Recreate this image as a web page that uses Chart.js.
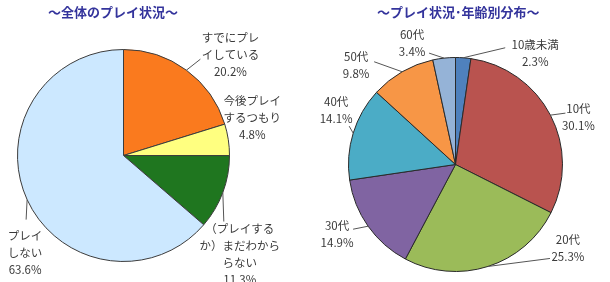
<!DOCTYPE html>
<html>
<head>
<meta charset="utf-8">
<script src="https://cdn.jsdelivr.net/npm/chart.js@4"></script>
<style>
  body { margin: 0; background: #fff; width: 610px; height: 282px; position: relative; overflow: hidden; }
  .box { position: absolute; top: 0; width: 305px; height: 282px; }
  .titulo { position: absolute; top: 2px; font: bold 13px "Noto Sans CJK JP", sans-serif; color: #34349c; white-space: nowrap; }
</style>
</head>
<body>
<div class="box" style="left:0"><canvas id="chartZentai" width="305" height="282"></canvas></div>
<div class="box" style="left:305px"><canvas id="chartNenrei" width="305" height="282"></canvas></div>
<div class="titulo" style="left:48px">～全体のプレイ状況～</div>
<div class="titulo" style="left:377px">～プレイ状況･年齢別分布～</div>
<script>
// 全体のプレイ状況
var zentaiLabels = ["すでにプレ\nイしている", "今後プレイ\nするつもり", "（プレイする\nか）まだわから\nらない", "プレイ\nしない"];
var zentaiValues = [20.2, 4.8, 11.3, 63.6];

// 年齢別分布
var nenreiLabels = ["10歳未満", "10代", "20代", "30代", "40代", "50代", "60代"];
var nenreiValues = [2.3, 30.1, 25.3, 14.9, 14.1, 9.8, 3.4];

// ラベルの位置 (円周上の中点からのずれ) と引き出し線の終点
var zentaiPos = [
    { dx: 44, dy: -16, lx: 14, ly: -11 },
    { dx: 24, dy: -22, lx: null },
    { dx: 17, dy: 62, lx: 1, ly: 29 },
    { dx: -2, dy: 53, lx: -1, ly: 20 }
];
var nenreiPos = [
    { dx: 72, dy: -5, lx: 42, ly: -10 },
    { dx: 28, dy: 2, lx: 15, ly: -2 },
    { dx: 80, dy: -18, lx: 62, ly: -8 },
    { dx: -31, dy: 8, lx: -15, ly: 3 },
    { dx: -17, dy: -23, lx: -4, ly: -7 },
    { dx: -46, dy: -7, lx: -28, ly: -10 },
    { dx: -32, dy: -15, lx: -15, ly: -5 }
];

// ラベルと引き出し線を描くプラグイン
var etiquetas = {
    id: "etiquetas",
    afterDatasetsDraw: function (chart, args, opts) {
        var ctx = chart.ctx;
        var meta = chart.getDatasetMeta(0);
        var valores = chart.data.datasets[0].data;
        ctx.save();
        ctx.font = "11.5px 'Noto Sans CJK JP', sans-serif";
        ctx.fillStyle = "#3a3a3a";
        ctx.strokeStyle = "#555";
        ctx.lineWidth = 1;
        ctx.textAlign = "center";
        ctx.textBaseline = "middle";
        meta.data.forEach(function (arc, i) {
            var p = arc.getProps(["x", "y", "startAngle", "endAngle", "outerRadius"], true);
            var mid = (p.startAngle + p.endAngle) / 2;
            var ax = p.x + Math.cos(mid) * p.outerRadius;
            var ay = p.y + Math.sin(mid) * p.outerRadius;
            var pos = opts.pos[i];
            if (pos.lx !== null) {
                ctx.beginPath();
                ctx.moveTo(ax, ay);
                ctx.lineTo(ax + pos.lx, ay + pos.ly);
                ctx.stroke();
            }
            var lineas = chart.data.labels[i].split("\n");
            lineas.push(valores[i].toFixed(1) + "%");
            var alto = 17;
            var y0 = ay + pos.dy - (lineas.length - 1) * alto / 2;
            lineas.forEach(function (t, k) {
                ctx.fillText(t, ax + pos.dx, y0 + k * alto);
            });
        });
        ctx.restore();
    }
};

new Chart(document.getElementById("chartZentai"), {
    type: "pie",
    data: {
        labels: zentaiLabels,
        datasets: [{
            data: zentaiValues,
            backgroundColor: ["#fa7a1e", "#ffff80", "#1f761f", "#cce8ff"],
            borderColor: "#3c3c3c",
            borderWidth: 1
        }]
    },
    options: {
        responsive: false,
        animation: false,
        layout: { padding: { left: 17, right: 75, top: 49, bottom: 20 } },
        plugins: {
            legend: { display: false },
            tooltip: { enabled: false },
            etiquetas: { pos: zentaiPos }
        }
    },
    plugins: [etiquetas]
});

new Chart(document.getElementById("chartNenrei"), {
    type: "pie",
    data: {
        labels: nenreiLabels,
        datasets: [{
            data: nenreiValues,
            backgroundColor: ["#4f81bd", "#b9534f", "#9bbb59", "#8064a2", "#4bacc6", "#f79646", "#95b3d7"],
            borderColor: "#2a2a2a",
            borderWidth: 1
        }]
    },
    options: {
        responsive: false,
        animation: false,
        layout: { padding: { left: 43, right: 47, top: 57, bottom: 10 } },
        plugins: {
            legend: { display: false },
            tooltip: { enabled: false },
            etiquetas: { pos: nenreiPos }
        }
    },
    plugins: [etiquetas]
});
</script>
</body>
</html>
